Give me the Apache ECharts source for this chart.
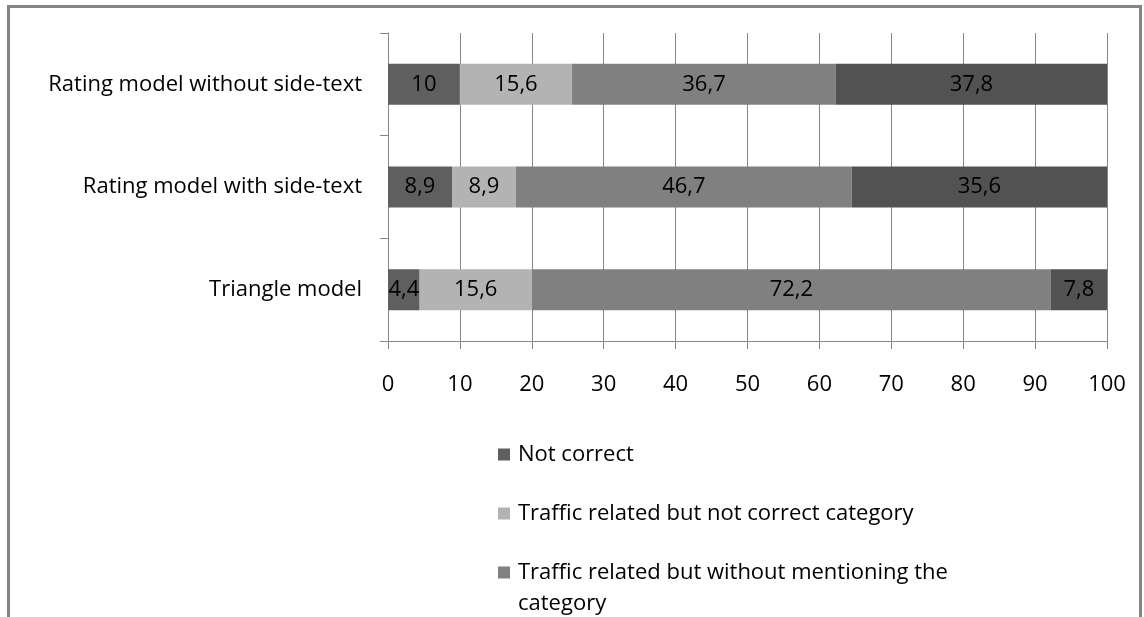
<!DOCTYPE html>
<html>
<head>
<meta charset="utf-8">
<script src="https://cdn.jsdelivr.net/npm/echarts@6/dist/echarts.min.js"></script>
<style>
html,body{margin:0;padding:0;background:#fff;}
#c{width:1144px;height:617px;}
</style>
</head>
<body>
<div id="c"></div>
<script>
const categories = ['Triangle model', 'Rating model with side-text', 'Rating model without side-text'];
const seriesNames = ['Not correct', 'Traffic related but not correct category', 'Traffic related but without mentioning the category', 'Correct'];
const notCorrect = [4.4, 8.9, 10];
const trafficWrongCategory = [15.6, 8.9, 15.6];
const trafficNoCategory = [72.2, 46.7, 36.7];
const correct = [7.8, 35.6, 37.8];
const xTicks = [0, 10, 20, 30, 40, 50, 60, 70, 80, 90, 100];

const colors = ['#5f5f5f', '#b3b3b3', '#808080', '#525252'];
const values = [notCorrect, trafficWrongCategory, trafficNoCategory, correct];
const font = '"Open Sans", sans-serif';
const fs = 22;

const legendText = {
  fontFamily: font, fontSize: fs, color: '#000', lineHeight: 31,
  width: 455, overflow: 'break', padding: [0, 0, 0, 3]
};
const legendBase = {
  orient: 'vertical', left: 493, height: 600,
  itemWidth: 12, itemHeight: 12, itemGap: 28, icon: 'rect',
  textStyle: legendText
};

const chart = echarts.init(document.getElementById('c'), null, {renderer: 'canvas'});
chart.setOption({
  animation: false,
  backgroundColor: '#ffffff',
  textStyle: {fontFamily: font},
  graphic: [{
    type: 'rect', silent: true,
    shape: {x: 8.5, y: 6.5, width: 1132, height: 700},
    style: {fill: 'none', stroke: '#858585', lineWidth: 3}
  }],
  grid: {left: 388, right: 37, top: 33, bottom: 276, containLabel: false},
  legend: [
    Object.assign({}, legendBase, {top: 434, data: seriesNames.slice(0, 2)}),
    Object.assign({}, legendBase, {
      top: 521,
      data: seriesNames.slice(2),
      // first line of a wrapped item sits level with its marker
      formatter: name => '\n' + name
    })
  ],
  xAxis: {
    type: 'value', min: xTicks[0], max: xTicks[xTicks.length - 1], interval: 10,
    axisLine: {show: true, lineStyle: {color: '#868686', width: 1}},
    axisTick: {show: true, length: 8, lineStyle: {color: '#868686'}},
    splitLine: {show: true, lineStyle: {color: '#868686', width: 1}},
    axisLabel: {color: '#000', fontSize: fs, fontFamily: font, margin: 33}
  },
  yAxis: {
    type: 'category', data: categories,
    axisLine: {show: true, lineStyle: {color: '#868686', width: 1}},
    axisTick: {show: true, length: 8, lineStyle: {color: '#868686'}},
    axisLabel: {color: '#000', fontSize: fs, fontFamily: font, margin: 26}
  },
  series: seriesNames.map((name, i) => ({
    name: name,
    type: 'bar',
    stack: 'total',
    barWidth: 41,
    itemStyle: {color: colors[i]},
    label: {
      show: true, position: 'inside', color: '#000', fontSize: fs, fontFamily: font,
      formatter: p => String(p.value).replace('.', ',')
    },
    data: values[i]
  }))
});
</script>
</body>
</html>
